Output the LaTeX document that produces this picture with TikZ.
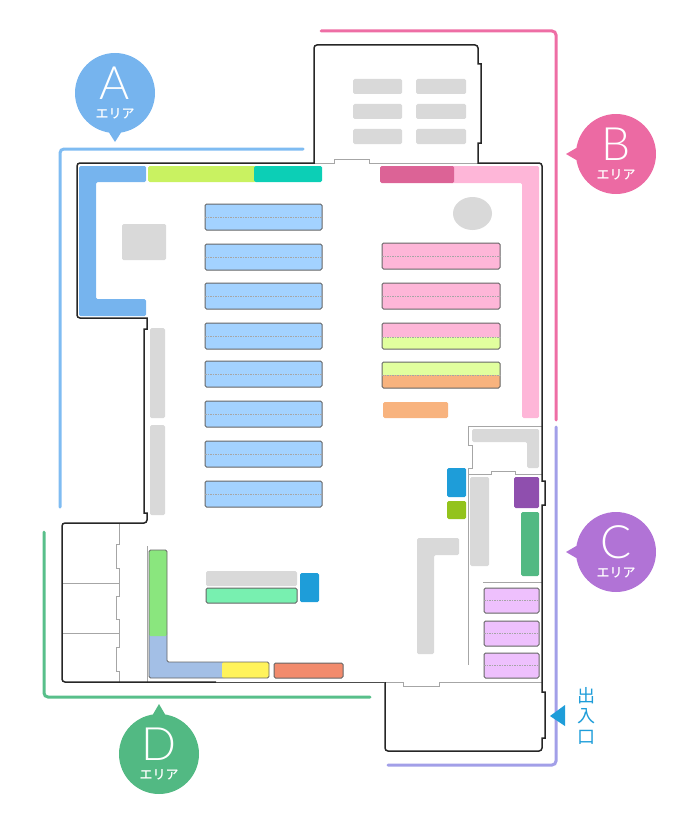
\documentclass[tikz,border=0pt]{standalone}
\usepackage{fontspec}
\setmainfont{Noto Sans CJK JP}
\newfontfamily\labelfont[UprightFont=* Medium]{Noto Sans CJK JP}
\newfontfamily\letterfont[UprightFont=* Light]{Lato}
\usetikzlibrary{positioning}

\definecolor{areaA}{HTML}{76B4EE}
\definecolor{areaB}{HTML}{EC6AA3}
\definecolor{areaC}{HTML}{B173D6}
\definecolor{areaD}{HTML}{52B983}
\definecolor{lineA}{HTML}{7FBCF2}
\definecolor{lineB}{HTML}{EE6EA5}
\definecolor{lineC}{HTML}{A29FE8}
\definecolor{lineD}{HTML}{58BF8A}
\definecolor{shelfgrey}{HTML}{D9D9D9}
\definecolor{shelfblue}{HTML}{A3D2FF}
\definecolor{shelfpink}{HTML}{FEB6D8}
\definecolor{shelflime}{HTML}{E1FF9E}
\definecolor{shelforange}{HTML}{F8B37E}
\definecolor{shelflilac}{HTML}{EEC0FD}
\definecolor{exitblue}{HTML}{1E9DD9}

\tikzset{
    wall/.style={line width=1.5pt, draw=black!85},
    inner wall/.style={line width=0.8pt, draw=black!35},
    area line/.style={line width=3pt, line cap=round, rounded corners=4pt},
    block/.style={rounded corners=1.5pt},
    shelf/.style={draw=black!60, line width=1pt, rounded corners=1.5pt},
    midline/.style={draw=black!35, line width=0.4pt, dash pattern=on 1.5pt off 1pt},
    big letter/.style={text=white, font=\letterfont\fontsize{46pt}{46pt}\selectfont, inner sep=0pt},
    small label/.style={text=white, font=\labelfont\fontsize{13pt}{13pt}\selectfont, inner sep=0pt}
}

\begin{document}
\begin{tikzpicture}[x=1pt, y=-1pt]
    \useasboundingbox (0,0) rectangle (700,832);

    % Thin inner walls
    \draw[inner wall] (314,163) -- (334,163) -- (334,159) -- (369,159) -- (369,163) -- (478,163);
    \draw[inner wall] (542,426) -- (468,426) -- (468,445) -- (472,445) -- (472,468) -- (468,468) -- (468,665);
    \draw[inner wall] (468,474) -- (491,474) -- (491,471) -- (515,471) -- (515,474) -- (542,474);
    \draw[inner wall] (483,582) -- (542,582);
    \draw[inner wall] (385,682) -- (403,682) -- (403,686) -- (439,686) -- (439,682) -- (542,682);
    \draw[inner wall] (119,523) -- (119,544) -- (116,544) -- (116,568) -- (119,568) -- (119,596) -- (116,596)
        -- (116,619) -- (119,619) -- (119,647) -- (116,647) -- (116,671) -- (119,671) -- (119,682);
    \draw[inner wall] (62,583) -- (119,583);
    \draw[inner wall] (62,633) -- (119,633);
    \draw[inner wall] (147,546) -- (147,682);

    % Outer wall
    \draw[wall] (216,682) [rounded corners=3pt] -- (62,682) -- (62,523) -- (147,523) [sharp corners] -- (147,513) -- (144,513) -- (144,329)
        -- (147,329) -- (147,318) [rounded corners=3pt] -- (77,318) -- (77,163) [sharp corners] -- (314,163) [rounded corners=3pt] -- (314,45) -- (478,45) [sharp corners] -- (478,64)
        -- (481,64) -- (481,143) -- (478,143) -- (478,163) [rounded corners=3pt] -- (542,163) [sharp corners] -- (542,481) -- (545,481) -- (545,505)
        -- (542,505) -- (542,692) -- (545,692) -- (545,738) -- (542,738) [rounded corners=3pt] -- (542,751) -- (385,751) [sharp corners] -- (385,682);
    \draw[line width=1pt, draw=black!70] (385,682) -- (216,682);

    % Area lines
    \draw[area line, lineA] (303,149) -- (60,149) -- (60,507);
    \draw[area line, lineB] (321,31) -- (556,31) -- (556,420);
    \draw[area line, lineC] (556,427) -- (556,765) -- (388,765);
    \draw[area line, lineD] (44,532) -- (44,697) -- (370,697);

    % Grey fixtures
    \foreach \y in {79,104,129} {
        \fill[block, shelfgrey] (353,\y) rectangle (402,\y+15);
        \fill[block, shelfgrey] (416,\y) rectangle (466,\y+15);
    }
    \fill[shelfgrey] (472.5,213.5) ellipse (19.5 and 16.5);
    \fill[block, shelfgrey] (122,224) rectangle (166,260);
    \fill[block, shelfgrey] (150,328) rectangle (165,418);
    \fill[block, shelfgrey] (150,425) rectangle (165,515);
    \fill[block, shelfgrey] (472,429) -- (539,429) -- (539,468) -- (527,468) -- (527,442) -- (472,442) -- cycle;
    \fill[block, shelfgrey] (470,477) rectangle (489,566);
    \fill[block, shelfgrey] (417,654) -- (417,538) -- (459,538) -- (459,555) -- (434,555) -- (434,654) -- cycle;
    \fill[block, shelfgrey] (206,571) rectangle (297,586);

    % Wall shelves
    \fill[block, fill=areaA] (79,166) -- (146,166) -- (146,182) -- (96,182) -- (96,299) -- (146,299) -- (146,316) -- (79,316) -- cycle;
    \fill[block, fill={rgb,255:red,201;green,242;blue,97}] (148,166) rectangle (256,182);
    \fill[block, fill={rgb,255:red,12;green,207;blue,182}] (254,166) rectangle (322,182);
    \fill[block, fill=shelfpink] (450,166) -- (539,166) -- (539,418) -- (522,418) -- (522,183) -- (450,183) -- cycle;
    \fill[block, fill={rgb,255:red,220;green,99;blue,150}] (380,166) rectangle (454,183);

    % Blue shelves
    \foreach \y in {204,244,283,323,361,401,441,481} {
        \draw[shelf, fill=shelfblue] (205,\y) rectangle (322,\y+26);
        \draw[midline] (205,\y+13) -- (322,\y+13);
    }

    % Pink shelves
    \foreach \y in {243,283} {
        \draw[shelf, fill=shelfpink] (382,\y) rectangle (500,\y+26);
        \draw[midline] (382,\y+13) -- (500,\y+13);
    }
    \fill[block, shelfpink] (382,323) rectangle (500,338);
    \fill[block, shelflime] (382,337) rectangle (500,349);
    \draw[shelf] (382,323) rectangle (500,349);
    \draw[midline] (382,337) -- (500,337);
    \fill[block, shelflime] (382,362) rectangle (500,376);
    \fill[block, shelforange] (382,375) rectangle (500,388);
    \draw[shelf] (382,362) rectangle (500,388);
    \draw[midline] (382,375) -- (500,375);
    \fill[block, shelforange] (383,402) rectangle (448,418);

    % Entrance side blocks
    \fill[block, exitblue] (447,468) rectangle (466,497);
    \fill[block, fill={rgb,255:red,147;green,195;blue,28}] (447,501) rectangle (466,519);
    \fill[block, fill={rgb,255:red,143;green,79;blue,174}] (514,477) rectangle (539,508);
    \fill[block, areaD] (521,512) rectangle (539,576);
    \foreach \y in {588,621,653} {
        \draw[shelf, fill=shelflilac] (484,\y) rectangle (539,\y+25);
        \draw[midline] (484,\y+12.5) -- (539,\y+12.5);
    }

    % Lower left shelves
    \fill[block, fill={rgb,255:red,163;green,191;blue,230}] (149,630) -- (167,630) -- (167,662) -- (226,662) -- (226,678) -- (149,678) -- cycle;
    \fill[block, fill={rgb,255:red,138;green,230;blue,126}] (149,550) -- (167,550) -- (167,636) -- (149,636) -- cycle;
    \fill[block, fill={rgb,255:red,255;green,243;blue,91}] (222,662) -- (269,662) -- (269,678) -- (222,678) -- cycle;
    \draw[shelf, line width=0.8pt] (149,550) -- (167,550) -- (167,662) -- (269,662) -- (269,678) -- (149,678) -- cycle;
    \draw[shelf, fill={rgb,255:red,242;green,139;blue,109}] (274,663) rectangle (343,678);
    \draw[shelf, fill={rgb,255:red,120;green,240;blue,176}] (206,588) rectangle (297,603);
    \fill[block, exitblue] (300,573) rectangle (319,602);

    % Area bubbles
    \fill[areaA] (115,93) circle (40);
    \fill[areaA] (108,131) -- (115,142) -- (122,131) -- cycle;
    \node[big letter] (letterA) at (115,83.5) {A};
    \node[small label] (labelA) at (115,114) {エリア};

    \fill[areaB] (616,154) circle (40);
    \fill[areaB] (578,147) -- (566,154) -- (578,161) -- cycle;
    \node[big letter] (letterB) at (616,144.5) {B};
    \node[small label] (labelB) at (616,175) {エリア};

    \fill[areaC] (616,552) circle (40);
    \fill[areaC] (578,545) -- (566,552) -- (578,559) -- cycle;
    \node[big letter] (letterC) at (616,542.5) {C};
    \node[small label] (labelC) at (616,573) {エリア};

    \fill[areaD] (159,754) circle (40);
    \fill[areaD] (152,716) -- (159,704) -- (166,716) -- cycle;
    \node[big letter] (letterD) at (159,744.5) {D};
    \node[small label] (labelD) at (159,775) {エリア};

    % Entrance
    \fill[exitblue] (550,716) -- (565,705) -- (565,726) -- cycle;
    \node[text=exitblue, align=center, inner sep=0pt, font=\fontsize{18pt}{20.5pt}\selectfont] (entrance) at (586,715.5) {出\\入\\口};
\end{tikzpicture}
\end{document}
